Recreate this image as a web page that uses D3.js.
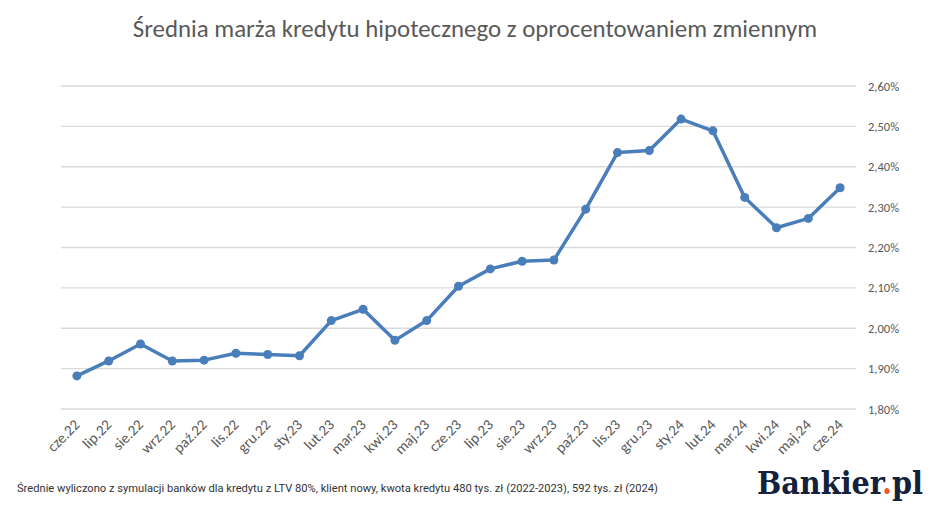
<!DOCTYPE html>
<html>
<head>
<meta charset="utf-8">
<script src="https://cdn.jsdelivr.net/npm/d3@7"></script>
<style>
  body { margin: 0; background: #fff; }
  text { font-family: Carlito, Calibri, "Open Sans", sans-serif; }
</style>
</head>
<body>
<svg id="chart" width="948" height="510"></svg>
<script>
var months = ["cze.22", "lip.22", "sie.22", "wrz.22", "paź.22", "lis.22", "gru.22", "sty.23",
  "lut.23", "mar.23", "kwi.23", "maj.23", "cze.23", "lip.23", "sie.23", "wrz.23", "paź.23",
  "lis.23", "gru.23", "sty.24", "lut.24", "mar.24", "kwi.24", "maj.24", "cze.24"];

var margins = [1.882, 1.919, 1.961, 1.919, 1.921, 1.938, 1.935, 1.932,
  2.019, 2.047, 1.970, 2.019, 2.104, 2.147, 2.166, 2.169, 2.295,
  2.435, 2.440, 2.518, 2.489, 2.324, 2.249, 2.272, 2.348];

var yTicks = [1.8, 1.9, 2.0, 2.1, 2.2, 2.3, 2.4, 2.5, 2.6];

var titleText = "Średnia marża kredytu hipotecznego z oprocentowaniem zmiennym";
var noteText = "Średnie wyliczono z symulacji banków dla kredytu z LTV 80%, klient nowy, kwota kredytu 480 tys. zł (2022-2023), 592 tys. zł (2024)";

var svg = d3.select("#chart");
var width = 948;
var plotLeft = 61, plotRight = 856, plotTop = 86, plotBottom = 409;
var grey = "#595959";
var blue = "#4a7ebb";

var x = d3.scaleBand()
  .domain(months)
  .range([plotLeft, plotRight]);

var y = d3.scaleLinear()
  .domain([1.8, 2.6])
  .range([plotBottom, plotTop]);

var fmt = function(v) { return d3.format(".2f")(v).replace(".", ",") + "%"; };

// fit text to a given width by shrinking/growing font size
function fitWidth(sel, w) {
  var len = sel.node().getComputedTextLength();
  var fs = parseFloat(sel.attr("font-size"));
  sel.attr("font-size", fs * w / len);
}

// title
var title = svg.append("text")
  .attr("x", width / 2 + 1).attr("y", 37)
  .attr("text-anchor", "middle")
  .attr("font-size", 24)
  .attr("fill", grey)
  .text(titleText);
fitWidth(title, 685);

// gridlines
svg.append("g")
  .selectAll("line")
  .data(yTicks)
  .enter()
  .append("line")
    .attr("x1", plotLeft).attr("x2", plotRight)
    .attr("y1", function(d) { return y(d); })
    .attr("y2", function(d) { return y(d); })
    .attr("stroke", "#d9d9d9")
    .attr("stroke-width", 1.3);

// right axis labels
var yAxis = svg.append("g")
  .attr("transform", "translate(" + plotRight + ",0)")
  .call(d3.axisRight(y).tickValues(yTicks).tickFormat(fmt).tickSize(0).tickPadding(12));
yAxis.select(".domain").remove();
yAxis.selectAll("text")
  .attr("fill", grey)
  .attr("font-size", 12.5)
  .style("font-family", "Carlito, Calibri, 'Open Sans', sans-serif");

// x labels, rotated
var xAxis = svg.append("g")
  .attr("transform", "translate(0," + plotBottom + ")")
  .call(d3.axisBottom(x).tickSize(0).tickPadding(0));
xAxis.select(".domain").remove();
xAxis.selectAll("text")
  .attr("fill", grey)
  .attr("font-size", 15)
  .style("font-family", "Carlito, Calibri, 'Open Sans', sans-serif")
  .attr("text-anchor", "end")
  .attr("y", 0)
  .attr("dy", "0.35em")
  .attr("transform", "translate(0,13) rotate(-45)");

// line + markers
var cx = function(d, i) { return x(months[i]) + x.bandwidth() / 2; };

svg.append("path")
  .datum(margins)
  .attr("fill", "none")
  .attr("stroke", blue)
  .attr("stroke-width", 3.5)
  .attr("stroke-linejoin", "round")
  .attr("d", d3.line().x(cx).y(function(d) { return y(d); }));

svg.append("g")
  .selectAll("circle")
  .data(margins)
  .enter()
  .append("circle")
    .attr("cx", cx)
    .attr("cy", function(d) { return y(d); })
    .attr("r", 4.5)
    .attr("fill", blue);

// footnote
var note = svg.append("text")
  .attr("x", 17).attr("y", 492)
  .attr("font-size", 12)
  .attr("fill", "#333")
  .style("font-family", "Roboto, 'DejaVu Sans Condensed', sans-serif")
  .text(noteText);
fitWidth(note, 642);

// logo
var logo = svg.append("text")
  .attr("x", 757).attr("y", 494)
  .attr("font-size", 32)
  .attr("font-weight", "bold")
  .attr("fill", "#14213d")
  .style("font-family", "'DejaVu Serif Condensed', 'DejaVu Serif', serif");
logo.append("tspan").text("Bankier");
logo.append("tspan").attr("fill", "#f15a24").text(".");
logo.append("tspan").text("pl");
fitWidth(logo, 166);
</script>
</body>
</html>
